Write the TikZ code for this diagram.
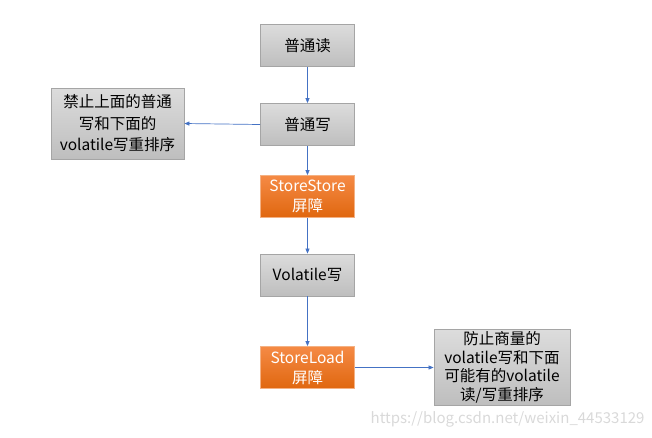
\documentclass[tikz,border=0pt]{standalone}
\usepackage{fontspec}
\setmainfont{Noto Sans CJK SC}
\usetikzlibrary{arrows.meta}
\definecolor{gtop}{HTML}{DCDCDC}
\definecolor{gbot}{HTML}{BEBEBE}
\definecolor{gline}{HTML}{A5A5A5}
\definecolor{otop}{HTML}{F58A45}
\definecolor{obot}{HTML}{E0670F}
\definecolor{oline}{HTML}{F4B183}
\definecolor{arr}{HTML}{4472C4}
\begin{document}
\begin{tikzpicture}[x=1pt,y=-1pt,
  graybox/.style={draw=gline, line width=0.8pt, top color=gtop, bottom color=gbot, minimum width=94pt, minimum height=42pt, font=\fontsize{15.5}{21}\selectfont, align=center, inner sep=2pt},
  orangebox/.style={draw=oline, line width=0.8pt, top color=otop, bottom color=obot, text=white, minimum width=94pt, minimum height=42pt, font=\fontsize{15.5}{20}\selectfont, align=center, inner sep=2pt},
  conn/.style={draw=arr, line width=0.7pt, -{Triangle[length=5pt,width=4pt]}}]
\useasboundingbox (0,0) rectangle (652,437);
\node[graybox] (a) at (307.5,45.5) {普通读};
\node[graybox] (b) at (307.5,124.5) {普通写};
\node[orangebox] (c) at (307.5,196.5) {StoreStore\\屏障};
\node[graybox] (d) at (307.5,275) {Volatile写};
\node[orangebox] (e) at (307.5,367.5) {StoreLoad\\屏障};
\node[graybox, minimum width=133pt, minimum height=71pt, font=\fontsize{15.5}{21.5}\selectfont] (l) at (117.5,123.5) {禁止上面的普通\\写和下面的\\volatile写重排序};
\node[graybox, minimum width=136pt, minimum height=73pt, font=\fontsize{15.5}{18.5}\selectfont] (r) at (502,367.5) {防止商量的\\volatile写和下面\\可能有的volatile\\读/写重排序};
\draw[conn] (a) -- (b);
\draw[conn] (b) -- (c);
\draw[conn] (c) -- (d);
\draw[conn] (d) -- (e);
\draw[conn] (b.west) -- (l.east);
\draw[conn] (e.east) -- (r.west);
\node[text=black!15, font=\fontsize{15}{15}\selectfont, anchor=east] (w) at (648,419) {https://blog.csdn.net/weixin\_44533129};
\end{tikzpicture}
\end{document}
